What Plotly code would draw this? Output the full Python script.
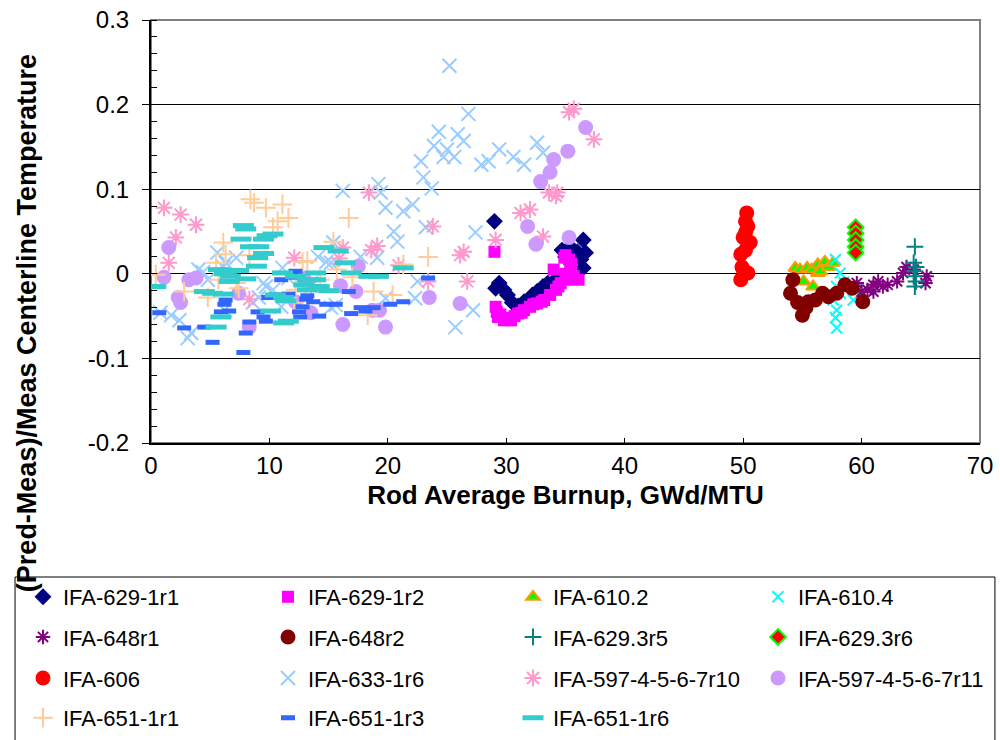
import plotly.graph_objects as go

FONT = "Arial, Liberation Sans, sans-serif"

# ---- data (burnup GWd/MTU, relative error) ----
x_629_1r1 = [29.0, 29.1, 29.4, 29.8, 30.1, 30.5, 31.0, 31.5, 32.2, 32.6, 33.1, 33.5,
             34.3, 34.7, 35.0, 35.4, 36.0, 36.5, 36.7, 36.3, 36.5]
y_629_1r1 = [0.062, -0.017, -0.011, -0.019, -0.025, -0.034, -0.038, -0.033, -0.025, -0.021,
             -0.015, -0.011, -0.005, 0.028, 0.020, 0.032, 0.026, 0.040, 0.025, 0.017, 0.007]

x_629_1r2 = [29.0, 29.1, 29.2, 29.3, 29.5, 29.8, 30.0, 30.4, 30.7, 31.0, 31.3, 31.5, 32.0,
             32.3, 32.6, 33.0, 33.2, 33.7, 34.2, 34.4, 34.6, 34.0, 35.0, 35.2, 35.4, 35.3,
             34.9, 35.0, 35.5, 35.7, 36.1]
y_629_1r2 = [0.026, -0.039, -0.045, -0.051, -0.048, -0.055, -0.052, -0.055, -0.050, -0.047,
             -0.046, -0.043, -0.039, -0.036, -0.035, -0.033, -0.031, -0.025, -0.019, -0.015,
             -0.011, 0.005, 0.000, -0.007, 0.008, 0.017, 0.019, 0.022, 0.012, -0.003, -0.007]

x_610_2 = [54.4, 54.8, 55.1, 55.4, 55.8, 55.9, 56.3, 56.3, 56.5, 56.9, 57.2, 57.6]
y_610_2 = [0.007, 0.005, -0.009, 0.007, 0.005, -0.015, 0.011, 0.001, 0.003, 0.014, 0.008, 0.013]

x_610_4 = [57.8, 58.2, 57.9, 58.2, 57.6, 57.9, 57.8, 57.9, 59.3, 59.5, 58.5]
y_610_4 = [0.017, 0.001, -0.015, -0.023, -0.031, -0.043, -0.052, -0.064, -0.031, -0.019, -0.010]

x_648r1 = [59.6, 60.0, 60.5, 61.0, 61.0, 61.4, 61.8, 62.2, 63.0, 63.5, 63.8, 64.4, 65.5, 65.4]
y_648r1 = [-0.011, -0.021, -0.019, -0.013, -0.021, -0.009, -0.015, -0.013, -0.009, 0.001,
           0.008, 0.005, -0.003, -0.011]

x_648r2 = [54.2, 54.0, 54.6, 55.0, 55.3, 55.5, 56.1, 56.7, 57.2, 57.9, 58.6, 59.2, 60.1]
y_648r2 = [-0.007, -0.023, -0.034, -0.049, -0.040, -0.033, -0.031, -0.023, -0.027, -0.023,
           -0.013, -0.017, -0.033]

x_629_3r5 = [64.5, 64.4, 64.6, 64.5, 64.4, 64.6, 64.5]
y_629_3r5 = [0.032, 0.013, 0.008, 0.003, -0.003, -0.009, -0.015]

x_629_3r6 = [59.5, 59.5, 59.5, 59.5, 59.5]
y_629_3r6 = [0.055, 0.048, 0.040, 0.032, 0.025]

x_606 = [50.3, 50.2, 50.4, 50.2, 50.0, 50.6, 50.2, 49.8, 50.0, 49.9, 50.4, 49.8]
y_606 = [0.072, 0.062, 0.056, 0.049, 0.043, 0.037, 0.028, 0.023, 0.005, 0.008, 0.001, -0.007]

x_633_1r6 = [0.8, 1.7, 2.4, 3.4, 3.1, 4.0, 4.4, 4.8, 5.6, 6.1, 6.3, 7.2, 6.2, 8.6, 9.1, 9.5,
             9.7, 10.3, 11.0, 11.1, 11.6, 13.5, 14.1, 14.8, 15.2, 15.4, 15.2, 15.6, 16.2,
             17.7, 19.1, 19.2, 19.4, 19.8, 19.8, 20.5, 20.8, 21.3, 22.1, 22.3, 22.5, 22.8,
             23.0, 23.2, 23.7, 23.9, 24.3, 24.7, 25.0, 25.2, 25.6, 25.7, 25.9, 26.4, 26.8,
             27.2, 27.4, 27.9, 28.5, 29.4, 30.6, 31.5, 32.6, 33.1]
y_633_1r6 = [-0.046, -0.049, -0.055, -0.070, -0.076, 0.005, 0.002, -0.007, 0.025, 0.008,
             0.013, 0.019, -0.043, -0.034, -0.028, -0.011, -0.015, -0.019, -0.039, 0.007,
             -0.005, -0.011, 0.020, 0.014, 0.013, 0.037, -0.040, -0.037, 0.098, 0.020, 0.019,
             0.106, 0.096, 0.078, -0.029, 0.050, 0.038, 0.074, 0.082, -0.029, -0.009, 0.133,
             0.114, 0.055, 0.101, 0.151, 0.168, 0.138, 0.147, 0.246, 0.138, -0.063, 0.165,
             0.157, 0.189, -0.043, 0.049, 0.129, 0.133, 0.147, 0.138, 0.129, 0.155, 0.143]

x_597_r10 = [1.1, 2.5, 3.8, 2.1, 1.5, 8.3, 12.1, 13.5, 15.9, 16.2, 18.4, 18.6, 19.1, 20.9,
             23.4, 23.8, 26.1, 26.4, 26.7, 29.1, 31.2, 32.0, 33.1, 33.6, 34.3, 34.2, 35.3,
             35.7, 37.4]
y_597_r10 = [0.078, 0.070, 0.058, 0.043, 0.013, -0.030, 0.019, -0.015, 0.018, 0.031, 0.096,
             0.028, 0.033, 0.010, -0.009, 0.056, 0.022, 0.026, -0.009, 0.040, 0.072, 0.076,
             0.044, 0.096, 0.096, 0.092, 0.191, 0.195, 0.159]

x_597_r11 = [1.5, 1.1, 3.2, 3.8, 2.3, 2.5, 7.4, 8.3, 12.9, 12.2, 13.5, 16.0, 16.2, 17.5,
             17.3, 18.7, 19.3, 19.8, 23.5, 26.1, 31.8, 32.5, 32.9, 33.7, 34.0, 35.2, 36.7,
             35.3]
y_597_r11 = [0.031, -0.004, -0.007, -0.005, -0.028, -0.034, -0.023, -0.063, -0.005, -0.033,
             -0.046, -0.014, -0.060, 0.009, -0.021, -0.043, -0.043, -0.063, -0.028, -0.035,
             0.056, 0.035, 0.109, 0.120, 0.135, 0.145, 0.173, 0.043]

x_651_1r1 = [0.4, 2.8, 4.8, 5.5, 5.7, 6.1, 6.3, 7.2, 7.4, 8.3, 8.4, 8.7, 9.7, 10.3, 10.7,
             11.1, 11.6, 12.1, 12.2, 12.8, 13.2, 14.3, 15.4, 15.7, 16.7, 17.0, 18.3, 18.8,
             20.4, 21.3, 23.4]
y_651_1r1 = [-0.001, -0.021, -0.028, 0.013, -0.007, 0.037, 0.023, -0.011, -0.017, 0.022,
             0.088, 0.084, 0.078, 0.055, 0.062, 0.082, 0.066, -0.034, -0.019, 0.014, 0.015,
             -0.007, 0.038, 0.005, 0.066, -0.004, -0.049, -0.021, -0.025, 0.011, 0.020]

x_651_1r3 = [0.7, 2.8, 4.5, 5.2, 7.8, 6.3, 6.2, 5.9, 6.6, 8.0, 8.3, 9.0, 9.5, 9.7, 9.9,
             10.4, 10.5, 11.0, 11.6, 12.2, 12.2, 12.5, 12.6, 12.8, 13.1, 13.2, 13.7, 14.2,
             14.8, 15.6, 16.7, 16.9, 17.7, 18.1, 18.8, 20.2, 21.3, 23.4]
y_651_1r3 = [-0.046, -0.064, -0.063, -0.081, -0.093, -0.031, -0.036, -0.045, -0.044,
             -0.070, -0.057, -0.045, -0.051, -0.056, -0.028, -0.028, -0.025, -0.007, -0.024,
             0.003, -0.004, -0.045, -0.051, -0.039, -0.030, -0.026, -0.033, -0.050, -0.036,
             -0.036, -0.021, -0.047, -0.040, -0.044, -0.040, -0.036, -0.033, -0.005]

x_651_1r6 = [0.4, 4.5, 5.2, 5.5, 5.7, 5.9, 6.1, 6.2, 6.5, 6.6, 6.7, 7.4, 7.6, 7.8, 8.0,
             8.0, 8.4, 8.9, 9.0, 9.1, 9.5, 9.5, 9.8, 10.3, 10.1, 10.5, 11.1, 11.2, 11.2,
             11.4, 11.6, 12.2, 12.9, 13.2, 13.2, 13.9, 13.9, 14.2, 14.6, 15.0, 15.8, 16.4,
             16.9, 18.4, 19.2, 21.3]
y_651_1r6 = [-0.015, -0.021, -0.023, -0.063, 0.005, -0.051, -0.024, 0.000, 0.004, -0.009,
             -0.003, 0.004, 0.041, 0.057, 0.053, -0.006, 0.032, 0.009, 0.019, 0.032, 0.041,
             0.024, 0.045, 0.047, -0.044, -0.025, 0.001, -0.028, -0.058, -0.032, -0.056,
             -0.003, -0.013, -0.007, -0.019, 0.001, -0.007, -0.015, 0.031, -0.020, 0.027,
             0.013, 0.001, -0.003, -0.003, 0.007]

y_tickvals = [-0.2, -0.1, 0.0, 0.1, 0.2, 0.3]
y_ticktext = ["-0.2", "-0.1", "0", "0.1", "0.2", "0.3"]


def mk(symbol, size, color, line_color=None, line_width=0):
    return dict(symbol=symbol, size=size, color=color,
                line=dict(color=line_color or color, width=line_width))


# name, x, y, marker, legend row
SERIES = [
    ("IFA-629-1r1", x_629_1r1, y_629_1r1, mk("diamond", 13, "#000080"), "legend"),
    ("IFA-629-1r2", x_629_1r2, y_629_1r2, mk("square", 12, "#FF00FF"), "legend"),
    ("IFA-610.2", x_610_2, y_610_2, mk("triangle-up", 12, "#00FF00", "#FF9900", 2), "legend"),
    ("IFA-610.4", x_610_4, y_610_4, mk("x-thin", 11, "#00FFFF", "#00FFFF", 2), "legend"),
    ("IFA-648r1", x_648r1, y_648r1, mk("asterisk", 12, "#800080", "#800080", 2), "legend2"),
    ("IFA-648r2", x_648r2, y_648r2, mk("circle", 15, "#800000"), "legend2"),
    ("IFA-629.3r5", x_629_3r5, y_629_3r5, mk("cross-thin", 12, "#008080", "#008080", 2), "legend2"),
    ("IFA-629.3r6", x_629_3r6, y_629_3r6, mk("diamond", 12, "#FF0000", "#00FF00", 2), "legend2"),
    ("IFA-606", x_606, y_606, mk("circle", 15, "#FF0000"), "legend3"),
    ("IFA-633-1r6", x_633_1r6, y_633_1r6, mk("x-thin", 14, "#99CCFF", "#99CCFF", 2), "legend3"),
    ("IFA-597-4-5-6-7r10", x_597_r10, y_597_r10, mk("asterisk", 14, "#FF99CC", "#FF99CC", 2), "legend3"),
    ("IFA-597-4-5-6-7r11", x_597_r11, y_597_r11, mk("circle", 15, "#CC99FF"), "legend3"),
    ("IFA-651-1r1", x_651_1r1, y_651_1r1, mk("cross-thin", 14, "#FFCC99", "#FFCC99", 2), "legend4"),
    ("IFA-651-1r3", x_651_1r3, y_651_1r3, mk("line-ew", 10, "#3366FF", "#3366FF", 5), "legend4"),
    ("IFA-651-1r6", x_651_1r6, y_651_1r6, mk("line-ew", 15, "#33CCCC", "#33CCCC", 5), "legend4"),
]

fig = go.Figure()
for name, xs, ys, marker, leg in SERIES:
    fig.add_trace(go.Scatter(x=xs, y=ys, mode="markers", name=name, marker=marker,
                             legend=leg, cliponaxis=True))

# one legend per row so the rows can be spaced like the original
legend_style = dict(orientation="h", xanchor="left", yanchor="middle", x=-0.1544,
                    entrywidth=200, entrywidthmode="pixels", itemwidth=30,
                    bgcolor="rgba(0,0,0,0)", borderwidth=0,
                    font=dict(family=FONT, size=22, color="black"))
row_y = [-0.364, -0.459, -0.556, -0.650]

fig.update_layout(
    width=1000, height=740,
    margin=dict(l=151, r=20, t=20, b=297, autoexpand=False),
    paper_bgcolor="white", plot_bgcolor="white",
    font=dict(family=FONT, size=24, color="black"),
    showlegend=True,
    legend=dict(legend_style, y=row_y[0]),
    legend2=dict(legend_style, y=row_y[1]),
    legend3=dict(legend_style, y=row_y[2]),
    legend4=dict(legend_style, y=row_y[3]),
    xaxis=dict(range=[0, 70], dtick=10, showgrid=False, zeroline=False,
               showline=True, linecolor="black", linewidth=2,
               ticks="inside", ticklen=5, tickcolor="black",
               tickfont=dict(size=24), ticklabeloverflow="allow",
               title=dict(text="<b>Rod Average Burnup, GWd/MTU</b>", standoff=8,
                          font=dict(size=26))),
    yaxis=dict(range=[-0.2, 0.3], tickvals=y_tickvals, ticktext=y_ticktext,
               showgrid=True, gridcolor="black", gridwidth=1, zeroline=False,
               showline=True, linecolor="black", linewidth=2,
               ticks="outside", ticklen=7, tickcolor="black",
               ticklabelstandoff=8, tickfont=dict(size=24), ticklabeloverflow="allow",
               minor=dict(dtick=0.02, ticks="inside", ticklen=6, tickcolor="black",
                          showgrid=False)),
    shapes=[
        # plot area frame
        dict(type="rect", xref="paper", yref="paper", x0=0, x1=1, y0=0, y1=1,
             line=dict(color="#808080", width=2), layer="below"),
        # legend frame
        dict(type="rect", xref="paper", yref="paper", x0=-0.164, x1=1.018,
             y0=-0.75, y1=-0.3168, line=dict(color="black", width=1),
             fillcolor="white", layer="above"),
    ],
    annotations=[
        dict(text="<b>(Pred-Meas)/Meas Centerline Temperature</b>", textangle=-90,
             xref="paper", yref="paper", x=-0.1495, y=0.2835,
             xanchor="center", yanchor="middle", showarrow=False,
             font=dict(size=27, family=FONT, color="black")),
    ],
)

# drop the page's default body margin (and scrollbars) so the figure fills the window
fig.write_html(
    "out.html",
    config={"displayModeBar": False},
    post_script="document.body.style.margin = '0'; document.body.style.overflow = 'hidden';",
)
